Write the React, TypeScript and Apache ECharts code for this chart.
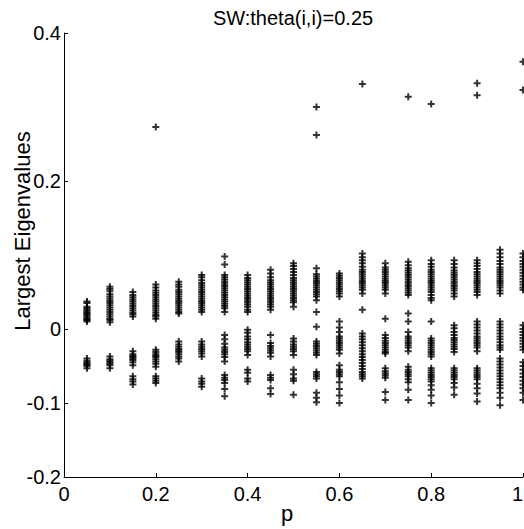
import React, { useEffect, useRef } from "react";
import * as echarts from "echarts";

const pValues = [0.05, 0.1, 0.15, 0.2, 0.25, 0.3, 0.35, 0.4, 0.45, 0.5, 0.55, 0.6, 0.65, 0.7, 0.75, 0.8, 0.85, 0.9, 0.95, 1.0];

const topBand: number[][] = [
  [0.037, 0.035, 0.030, 0.028, 0.026, 0.024, 0.022, 0.021, 0.019, 0.017, 0.015, 0.013, 0.012, 0.010],
  [0.057, 0.054, 0.051, 0.047, 0.044, 0.041, 0.038, 0.035, 0.032, 0.029, 0.026, 0.023, 0.020, 0.017, 0.014, 0.012, 0.009],
  [0.050, 0.046, 0.043, 0.040, 0.037, 0.034, 0.031, 0.028, 0.025, 0.022, 0.020, 0.017],
  [0.060, 0.056, 0.052, 0.049, 0.046, 0.043, 0.040, 0.037, 0.034, 0.031, 0.028, 0.025, 0.022, 0.019, 0.017, 0.014],
  [0.064, 0.060, 0.057, 0.053, 0.050, 0.047, 0.044, 0.041, 0.038, 0.035, 0.032, 0.029, 0.026, 0.023, 0.021],
  [0.073, 0.070, 0.066, 0.062, 0.059, 0.056, 0.053, 0.050, 0.047, 0.044, 0.041, 0.038, 0.035, 0.032, 0.029, 0.026, 0.023],
  [0.098, 0.087, 0.073, 0.070, 0.067, 0.064, 0.061, 0.058, 0.055, 0.052, 0.049, 0.046, 0.043, 0.040, 0.037, 0.034, 0.031, 0.028, 0.023],
  [0.073, 0.069, 0.066, 0.063, 0.060, 0.057, 0.054, 0.051, 0.048, 0.045, 0.042, 0.039, 0.036, 0.033, 0.030, 0.026, 0.023],
  [0.080, 0.075, 0.070, 0.066, 0.063, 0.060, 0.057, 0.054, 0.051, 0.048, 0.045, 0.042, 0.039, 0.036, 0.033, 0.030, 0.026],
  [0.089, 0.085, 0.081, 0.077, 0.073, 0.069, 0.066, 0.063, 0.060, 0.057, 0.054, 0.051, 0.048, 0.045, 0.042, 0.039, 0.036, 0.030],
  [0.082, 0.074, 0.071, 0.068, 0.065, 0.062, 0.059, 0.056, 0.053, 0.050, 0.047, 0.044, 0.039, 0.023, 0.003],
  [0.075, 0.072, 0.069, 0.066, 0.063, 0.060, 0.057, 0.054, 0.051, 0.048, 0.044],
  [0.102, 0.097, 0.093, 0.089, 0.084, 0.080, 0.077, 0.074, 0.071, 0.068, 0.065, 0.062, 0.059, 0.056, 0.053, 0.048, 0.026],
  [0.089, 0.083, 0.080, 0.077, 0.074, 0.071, 0.068, 0.065, 0.062, 0.059, 0.056, 0.053, 0.048, 0.014],
  [0.091, 0.086, 0.082, 0.079, 0.076, 0.073, 0.070, 0.067, 0.064, 0.061, 0.058, 0.055, 0.052, 0.049, 0.046, 0.021, 0.010],
  [0.093, 0.088, 0.084, 0.080, 0.077, 0.074, 0.071, 0.068, 0.065, 0.062, 0.059, 0.056, 0.053, 0.050, 0.046, 0.042, 0.039, 0.010],
  [0.093, 0.088, 0.083, 0.079, 0.076, 0.073, 0.070, 0.067, 0.064, 0.061, 0.058, 0.055, 0.052, 0.048, 0.044],
  [0.093, 0.089, 0.085, 0.081, 0.077, 0.074, 0.071, 0.068, 0.065, 0.062, 0.059, 0.056, 0.053, 0.050, 0.046],
  [0.107, 0.102, 0.097, 0.092, 0.088, 0.083, 0.080, 0.077, 0.074, 0.071, 0.068, 0.065, 0.062, 0.059, 0.056, 0.052, 0.048],
  [0.102, 0.097, 0.092, 0.088, 0.084, 0.080, 0.076, 0.072, 0.068, 0.064, 0.060, 0.056, 0.053],
];

const midBand: number[][] = [
  [-0.040, -0.043, -0.045, -0.047, -0.048, -0.050, -0.053],
  [-0.037, -0.041, -0.043, -0.045, -0.047, -0.049, -0.053],
  [-0.030, -0.034, -0.036, -0.038, -0.040, -0.042, -0.045, -0.049],
  [-0.028, -0.031, -0.034, -0.036, -0.038, -0.041, -0.044, -0.047, -0.051],
  [-0.017, -0.021, -0.024, -0.027, -0.029, -0.031, -0.034, -0.037, -0.040, -0.044],
  [-0.017, -0.021, -0.024, -0.027, -0.030, -0.033, -0.037],
  [-0.008, -0.014, -0.020, -0.025, -0.028, -0.031, -0.034, -0.038, -0.044],
  [-0.001, -0.005, -0.010, -0.014, -0.018, -0.021, -0.024, -0.027, -0.030, -0.035],
  [-0.008, -0.019, -0.023, -0.026, -0.029, -0.032, -0.037],
  [-0.013, -0.017, -0.021, -0.024, -0.027, -0.030, -0.035],
  [-0.017, -0.020, -0.023, -0.026, -0.029, -0.032, -0.035],
  [0.010, 0.002, -0.004, -0.010, -0.013, -0.016, -0.019, -0.022, -0.025, -0.028, -0.033],
  [-0.006, -0.010, -0.014, -0.018, -0.022, -0.026, -0.030, -0.034, -0.038, -0.042, -0.046, -0.050, -0.054, -0.058, -0.061, -0.064, -0.067],
  [-0.008, -0.012, -0.016, -0.019, -0.022, -0.025, -0.028, -0.031, -0.033],
  [-0.004, -0.010, -0.013, -0.016, -0.019, -0.022, -0.025, -0.030],
  [-0.013, -0.016, -0.019, -0.022, -0.025, -0.028, -0.031, -0.034, -0.037],
  [0.005, 0.001, -0.004, -0.008, -0.012, -0.015, -0.018, -0.021, -0.024, -0.027, -0.031],
  [0.010, 0.006, 0.002, -0.002, -0.006, -0.010, -0.013, -0.016, -0.019, -0.022, -0.025, -0.030],
  [0.010, 0.006, 0.002, -0.002, -0.006, -0.010, -0.014, -0.018, -0.022, -0.025, -0.028],
  [0.005, 0.000, -0.004, -0.008, -0.012, -0.016, -0.020, -0.024, -0.028],
];

const lowBand: number[][] = [
  [],
  [],
  [-0.064, -0.068, -0.071, -0.075],
  [-0.064, -0.067, -0.070, -0.073],
  [],
  [-0.067, -0.071, -0.074, -0.078],
  [-0.062, -0.066, -0.069, -0.073, -0.081, -0.091],
  [-0.055, -0.059, -0.067, -0.071],
  [-0.062, -0.066, -0.069, -0.080, -0.088],
  [-0.055, -0.061, -0.067, -0.070, -0.089],
  [-0.058, -0.061, -0.064, -0.067, -0.086, -0.093, -0.099],
  [-0.049, -0.055, -0.058, -0.061, -0.064, -0.072, -0.081, -0.090, -0.100],
  [],
  [-0.053, -0.057, -0.060, -0.063, -0.066, -0.085, -0.096],
  [-0.051, -0.055, -0.058, -0.061, -0.064, -0.068, -0.072, -0.082, -0.096],
  [-0.053, -0.056, -0.059, -0.062, -0.065, -0.068, -0.071, -0.076, -0.082, -0.090, -0.100],
  [-0.053, -0.056, -0.059, -0.062, -0.065, -0.068, -0.073, -0.079, -0.089],
  [-0.053, -0.056, -0.059, -0.062, -0.065, -0.068, -0.074, -0.080, -0.087, -0.098],
  [-0.040, -0.044, -0.048, -0.052, -0.056, -0.060, -0.064, -0.068, -0.072, -0.076, -0.080, -0.086, -0.093, -0.103],
  [-0.045, -0.050, -0.055, -0.060, -0.065, -0.070, -0.075, -0.080, -0.086, -0.096],
];

const outlierP = [0.2, 0.55, 0.55, 0.65, 0.75, 0.8, 0.9, 0.9, 1.0, 1.0];
const outlierValues = [0.273, 0.300, 0.262, 0.331, 0.314, 0.304, 0.332, 0.316, 0.361, 0.323];

const yTicks = [-0.2, -0.1, 0, 0.2, 0.4];

const titleText = "SW:theta(i,i)=0.25";
const yName = "Largest Eigenvalues";
const xName = "p";

const FONT = "Liberation Sans, Arial, Helvetica, sans-serif";

export default function App() {
  const ref = useRef<HTMLDivElement>(null);
  useEffect(() => {
    const chart = echarts.init(ref.current!, null, { renderer: "svg" });
    const pts: number[][] = [];
    pValues.forEach((p, i) => {
      [...topBand[i], ...midBand[i], ...lowBand[i]].forEach((v) => pts.push([p, v]));
    });
    outlierP.forEach((p, i) => pts.push([p, outlierValues[i]]));

    chart.setOption({
      animation: false,
      backgroundColor: "#fff",
      grid: { left: 64, right: 1, top: 33, bottom: 52, containLabel: false, outerBoundsMode: "none" },
      xAxis: {
        type: "value",
        min: 0,
        max: 1,
        interval: 0.2,
        axisLine: { show: true, onZero: false, lineStyle: { color: "#000", width: 1 } },
        axisTick: { show: true, inside: true, length: 4, lineStyle: { color: "#000" } },
        splitLine: { show: false },
        axisLabel: { color: "#000", fontSize: 20, fontFamily: FONT, margin: 7, alignMaxLabel: "right" },
      },
      yAxis: {
        type: "value",
        min: -0.2,
        max: 0.4,
        axisLine: { show: true, onZero: false, lineStyle: { color: "#000", width: 1 } },
        axisTick: { show: true, inside: true, length: 4, customValues: yTicks, lineStyle: { color: "#000" } },
        splitLine: { show: false },
        axisLabel: { color: "#000", fontSize: 20, fontFamily: FONT, margin: 3, customValues: yTicks },
      },
      series: [
        {
          type: "scatter",
          data: pts,
          symbol: "path://M5 0L5 10M0 5L10 5",
          symbolSize: 7,
          itemStyle: { color: "none", borderColor: "#000", borderWidth: 2 },
          clip: false,
        },
      ],
      graphic: [
        {
          type: "text",
          x: 293,
          y: 18,
          style: { text: titleText, fontSize: 20, fontFamily: FONT, fill: "#000", align: "center", verticalAlign: "middle" },
        },
        {
          type: "text",
          x: 22,
          y: 231,
          rotation: Math.PI / 2,
          style: { text: yName, fontSize: 22, fontFamily: FONT, fill: "#000", align: "center", verticalAlign: "middle" },
        },
        {
          type: "text",
          x: 287,
          y: 513,
          style: { text: xName, fontSize: 22, fontFamily: FONT, fill: "#000", align: "center", verticalAlign: "middle" },
        },
      ],
    });
    return () => chart.dispose();
  }, []);
  return <div ref={ref} style={{ position: "fixed", left: 0, top: 0, width: 524, height: 529 }} />;
}
